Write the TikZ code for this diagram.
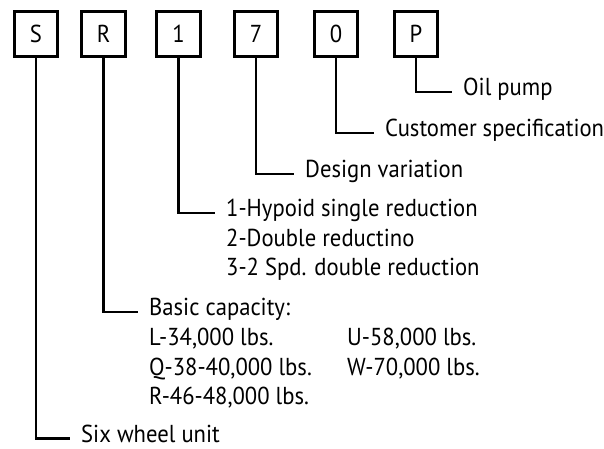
\documentclass[tikz,border=0pt]{standalone}
\usepackage{fontspec}
\setmainfont{PT Sans}[FakeStretch=0.925]

\begin{document}
\begin{tikzpicture}
[x=1pt,y=-1pt,
  boxdecorate/.style={shape=rectangle,draw,line width=2.7pt,minimum width=43.5pt,minimum height=45.5pt,inner sep=0pt,font=\fontsize{24.5}{28}\selectfont},%
  labeldecorate/.style={anchor=west,inner xsep=11pt,inner ysep=0pt,text height=1.4ex,text depth=0pt,font=\fontsize{24.5}{28}\selectfont},%
  linedecorate/.style={-,line width=2.5pt}]
\useasboundingbox (0,0) rectangle (604,448);
%% code letters
\foreach \nodename/\x/\letter in {s/36/S, r/103.5/R, one/178.5/1, seven/256/7,
  zero/336/0, p/416/P}
{
  \node (\nodename) at (\x,34) [boxdecorate] {\letter};
}
%% meanings
\foreach \nodename/\x/\y/\txt in {pump/452/92/Oil pump,
  cust/374/133/Customer specification, design/294/174/Design variation,
  hypoid/215/213/1-Hypoid single reduction, capacity/138/312/Basic capacity:,
  wheel/70/438.5/Six wheel unit}
{
  \node (\nodename) at (\x,\y) [labeldecorate] {\txt};
}
%% extra lines
\foreach \nodename/\x/\y/\txt in {double/215/243/2-Double reductino,
  spd/215/272/3-2 Spd. double reduction, capl/138/342/L-34{,}000 lbs.,
  capq/138/372/Q-38-40{,}000 lbs., capr/138/401/R-46-48{,}000 lbs.,
  capu/336/342/U-58{,}000 lbs., capw/336/372/W-70{,}000 lbs.}
{
  \node (\nodename) at (\x,\y) [labeldecorate] {\txt};
}
%% leaders
\foreach \startnode/\endnode in {p/pump, zero/cust, seven/design, one/hypoid,
  r/capacity, s/wheel}
{
  \draw[linedecorate] (\startnode.south) |- (\endnode.west);
}
\end{tikzpicture}
\end{document}
